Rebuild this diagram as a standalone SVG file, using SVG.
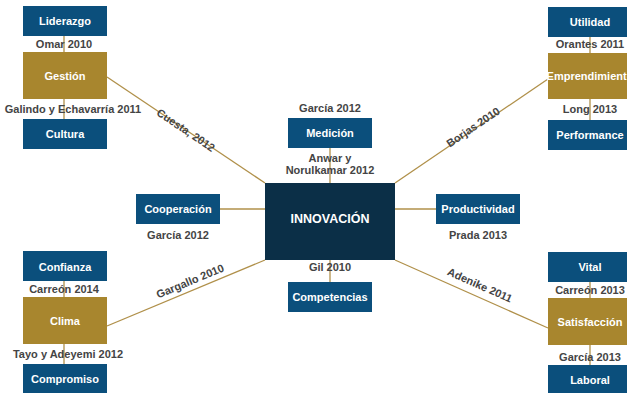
<svg xmlns="http://www.w3.org/2000/svg" width="627" height="393" viewBox="0 0 627 393">
<style>
.b{fill:#0b4f7c}
.g{fill:#a8862e}
.c{fill:#0b2f47}
.t{font-family:"Liberation Sans",Arial,sans-serif;font-weight:bold;font-size:11px;fill:#fff;text-anchor:middle;dominant-baseline:central}
.l{font-family:"Liberation Sans",Arial,sans-serif;font-weight:bold;font-size:11px;fill:#444;text-anchor:middle;dominant-baseline:central}
.k{stroke:#b0904a;stroke-width:1.3;fill:none}
</style>
<rect width="627" height="393" fill="#fff"/>
<g id="connectors">
<line class="k" x1="64" y1="36" x2="64" y2="119"/>
<line class="k" x1="590" y1="37" x2="590" y2="120"/>
<line class="k" x1="64" y1="281" x2="64" y2="364"/>
<line class="k" x1="590" y1="282" x2="590" y2="365"/>
<line class="k" x1="107" y1="77" x2="265" y2="183"/>
<line class="k" x1="548" y1="79" x2="395" y2="183"/>
<line class="k" x1="107" y1="326" x2="265" y2="260"/>
<line class="k" x1="548" y1="328" x2="395" y2="260"/>
<line class="k" x1="220" y1="209" x2="265" y2="209"/>
<line class="k" x1="395" y1="209" x2="436" y2="209"/>
<line class="k" x1="330" y1="148" x2="330" y2="183"/>
<line class="k" x1="330" y1="260" x2="330" y2="282"/>
<text class="l" transform="translate(186,130) rotate(33.9)">Cuesta, 2012</text>
<text class="l" transform="translate(473,127) rotate(-34.2)">Borjas 2010</text>
<text class="l" transform="translate(190,281) rotate(-22.7)">Gargallo 2010</text>
<text class="l" transform="translate(480,285) rotate(24)">Adenike 2011</text>
<text class="l" x="64" y="44">Omar 2010</text>
<text class="l" x="73" y="109">Galindo y Echavarría 2011</text>
<text class="l" x="590" y="44">Orantes 2011</text>
<text class="l" x="590" y="109">Long 2013</text>
<text class="l" x="64" y="289">Carreón 2014</text>
<text class="l" x="68" y="354">Tayo y Adeyemi 2012</text>
<text class="l" x="590" y="290">Carreón 2013</text>
<text class="l" x="590" y="357">García 2013</text>
<text class="l" x="330" y="108">García 2012</text>
<text class="l" x="330" y="158">Anwar y</text>
<text class="l" x="330" y="170">Norulkamar 2012</text>
<text class="l" x="178" y="235">García 2012</text>
<text class="l" x="478" y="235">Prada 2013</text>
<text class="l" x="330" y="267">Gil 2010</text>
</g>
<g id="innovacion"><rect class="c" x="265" y="183" width="130" height="77"/><text class="t" x="330" y="219" style="font-size:12.5px">INNOVACIÓN</text></g>
<g id="liderazgo"><rect class="b" x="23" y="6" width="84" height="30"/><text class="t" x="65" y="21">Liderazgo</text></g>
<g id="gestion"><rect class="g" x="23" y="52" width="84" height="47"/><text class="t" x="65" y="76">Gestión</text></g>
<g id="cultura"><rect class="b" x="23" y="119" width="84" height="30"/><text class="t" x="65" y="134">Cultura</text></g>
<g id="utilidad"><rect class="b" x="548" y="7" width="84" height="30"/><text class="t" x="590" y="22">Utilidad</text></g>
<g id="emprendimiento"><rect class="g" x="548" y="53" width="84" height="46"/><text class="t" x="590" y="76">Emprendimiento</text></g>
<g id="performance"><rect class="b" x="548" y="120" width="84" height="30"/><text class="t" x="590" y="135">Performance</text></g>
<g id="confianza"><rect class="b" x="23" y="251" width="84" height="30"/><text class="t" x="65" y="267">Confianza</text></g>
<g id="clima"><rect class="g" x="23" y="297" width="84" height="47"/><text class="t" x="65" y="321">Clima</text></g>
<g id="compromiso"><rect class="b" x="23" y="364" width="84" height="30"/><text class="t" x="65" y="379">Compromiso</text></g>
<g id="vital"><rect class="b" x="548" y="252" width="84" height="30"/><text class="t" x="590" y="267">Vital</text></g>
<g id="satisfaccion"><rect class="g" x="548" y="298" width="84" height="47"/><text class="t" x="590" y="322">Satisfacción</text></g>
<g id="laboral"><rect class="b" x="548" y="365" width="84" height="30"/><text class="t" x="590" y="380">Laboral</text></g>
<g id="cooperacion"><rect class="b" x="136" y="194" width="84" height="30"/><text class="t" x="178" y="209">Cooperación</text></g>
<g id="productividad"><rect class="b" x="436" y="194" width="84" height="30"/><text class="t" x="478" y="209">Productividad</text></g>
<g id="medicion"><rect class="b" x="288" y="118" width="84" height="30"/><text class="t" x="330" y="133">Medición</text></g>
<g id="competencias"><rect class="b" x="288" y="282" width="84" height="30"/><text class="t" x="330" y="297">Competencias</text></g>
</svg>
